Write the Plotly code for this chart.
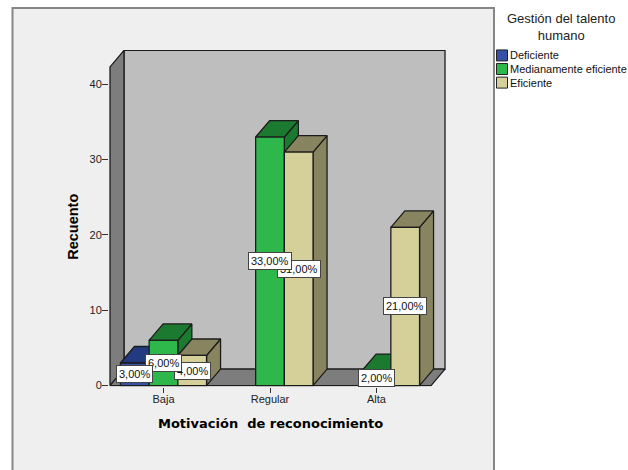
import plotly.graph_objects as go

# Counts per motivation level and talent-management rating
categories = ["Baja", "Regular", "Alta"]
series_names = ["Deficiente", "Medianamente eficiente", "Eficiente"]
deficiente = [3, 0, 0]
medianamente = [6, 33, 2]
eficiente = [4, 31, 21]
y_ticks = [0, 10, 20, 30, 40]

front_colors = ["#3552a6", "#2eb84c", "#d5d09a"]
shade_colors = ["#233a80", "#1c7a30", "#87845f"]
EDGE = "#1c1c1c"

W, H = 628, 470
# Vertical positions below are given on this nominal page height
H_NOMINAL = 465.5

# Pixel layout of the box: front-left corner, scale and oblique depth
X_CAT0, CAT_STEP = 163.5, 106.5
Y_ZERO, PX_PER_UNIT = 386.0, 7.54
BAR = 28.7 / CAT_STEP
DX = 14.0 / CAT_STEP
DY = 16.5 / PX_PER_UNIT
PAD = 1

LEFT_PX, RIGHT_PX, TOP_PX = 110, 445, 51
x_lo = (LEFT_PX - PAD - X_CAT0) / CAT_STEP
x_hi = (RIGHT_PX + PAD - X_CAT0) / CAT_STEP
y_lo = (Y_ZERO - (Y_ZERO + PAD)) / PX_PER_UNIT
y_hi = (Y_ZERO - (TOP_PX - PAD)) / PX_PER_UNIT

wall_left = (LEFT_PX - X_CAT0) / CAT_STEP
wall_right = (RIGHT_PX - 14 - X_CAT0) / CAT_STEP
wall_top = (Y_ZERO - 67) / PX_PER_UNIT


def yp(py):
    return 1 - py / H_NOMINAL


def polygon(xs, ys, color, name=None):
    return go.Scatter(
        x=xs + xs[:1], y=ys + ys[:1], mode="lines", fill="toself",
        fillcolor=color, line=dict(color=EDGE, width=1.3),
        hoverinfo="skip", showlegend=False, name=name,
    )


def paper_text(px, py, text, font, **extra):
    return dict(
        x=px / W, y=yp(py), xref="paper", yref="paper", showarrow=False,
        xanchor=extra.pop("xanchor", "center"), yanchor="middle",
        text=text, font=font, **extra,
    )


fig = go.Figure()

# Back wall, side wall and floor of the box
fig.add_trace(polygon(
    [wall_left + DX, wall_right + DX, wall_right + DX, wall_left + DX],
    [DY, DY, wall_top + DY, wall_top + DY], "#bebebe"))
fig.add_trace(polygon(
    [wall_left, wall_left + DX, wall_left + DX, wall_left],
    [0, DY, wall_top + DY, wall_top], "#7d7d7d"))
fig.add_trace(polygon(
    [wall_left, wall_left + DX, wall_right + DX, wall_right],
    [0, DY, DY, 0], "#7d7d7d"))

# Oblique bars, left to right within each group
all_series = [deficiente, medianamente, eficiente]
for c in range(len(categories)):
    for s, values in enumerate(all_series):
        v = values[c]
        if v == 0:
            continue
        x0 = c + (s - 1.5) * BAR
        x1 = x0 + BAR
        fig.add_trace(polygon([x1, x1 + DX, x1 + DX, x1], [0, DY, v + DY, v], shade_colors[s]))
        fig.add_trace(polygon([x0, x0 + DX, x1 + DX, x1], [v, v + DY, v + DY, v], shade_colors[s]))
        fig.add_trace(polygon([x0, x1, x1, x0], [0, 0, v, v], front_colors[s], series_names[s]))

# Value labels; earlier groups and series sit on top
annotations = []
for c in reversed(range(len(categories))):
    for s in reversed(range(len(all_series))):
        v = all_series[s][c]
        if v == 0:
            continue
        annotations.append(dict(
            x=c + (s - 1) * BAR, y=v / 2, xref="x", yref="y",
            xanchor="center", yanchor="middle",
            text=f"{v},00%", showarrow=False,
            font=dict(family="Liberation Sans", size=11, color="#111111"),
            bgcolor="#ffffff", bordercolor="#444444", borderwidth=1, borderpad=2,
        ))

# Axis titles
annotations.append(paper_text(
    270, 424, "Motivación  de reconocimiento",
    dict(family="DejaVu Sans", size=13, color="#000000", weight="bold")))
annotations.append(paper_text(
    73, 227, "Recuento",
    dict(family="Liberation Sans", size=14.5, color="#000000", weight="bold"),
    textangle=-90))

# Legend block to the right of the frame
annotations.append(paper_text(
    561, 27.5, "Gestión del talento<br>humano",
    dict(family="Liberation Sans", size=13, color="#222222")))
shapes = [dict(
    type="rect", xref="paper", yref="paper", layer="below",
    x0=12.5 / W, x1=494 / W, y0=-0.02, y1=yp(8),
    fillcolor="#efefef", line=dict(color="#868686", width=2),
)]
for i, name in enumerate(series_names):
    cy = 55.5 + i * 13.6
    shapes.append(dict(
        type="rect", xref="paper", yref="paper",
        x0=496.5 / W, x1=507.5 / W, y0=yp(cy + 5.5), y1=yp(cy - 5.5),
        fillcolor=front_colors[i], line=dict(color="#222222", width=1),
    ))
    annotations.append(paper_text(
        507.5, cy, name,
        dict(family="Liberation Sans", size=11, color="#111111"), xanchor="left"))

fig.update_layout(
    width=W, height=H, margin=dict(l=0, r=0, t=0, b=0),
    paper_bgcolor="#ffffff", plot_bgcolor="rgba(0,0,0,0)",
    showlegend=False, shapes=shapes, annotations=annotations,
    xaxis=dict(
        domain=[(LEFT_PX - PAD) / W, (RIGHT_PX + PAD) / W], range=[x_lo, x_hi],
        tickvals=list(range(len(categories))), ticktext=categories,
        ticks="outside", ticklen=5, tickwidth=1.3, tickcolor="#333333",
        ticklabelstandoff=-3,
        showgrid=False, zeroline=False, showline=False,
        tickfont=dict(family="Liberation Sans", size=11, color="#222222"),
    ),
    yaxis=dict(
        domain=[yp(Y_ZERO + PAD), yp(TOP_PX - PAD)], range=[y_lo, y_hi],
        tickvals=y_ticks, ticks="outside", ticklen=6, tickwidth=1.3, tickcolor="#333333",
        ticklabelstandoff=-2,
        showgrid=False, zeroline=False, showline=False,
        tickfont=dict(family="Liberation Sans", size=11, color="#222222"),
    ),
)

fig.write_html("out.html", config=dict(displayModeBar=False))
